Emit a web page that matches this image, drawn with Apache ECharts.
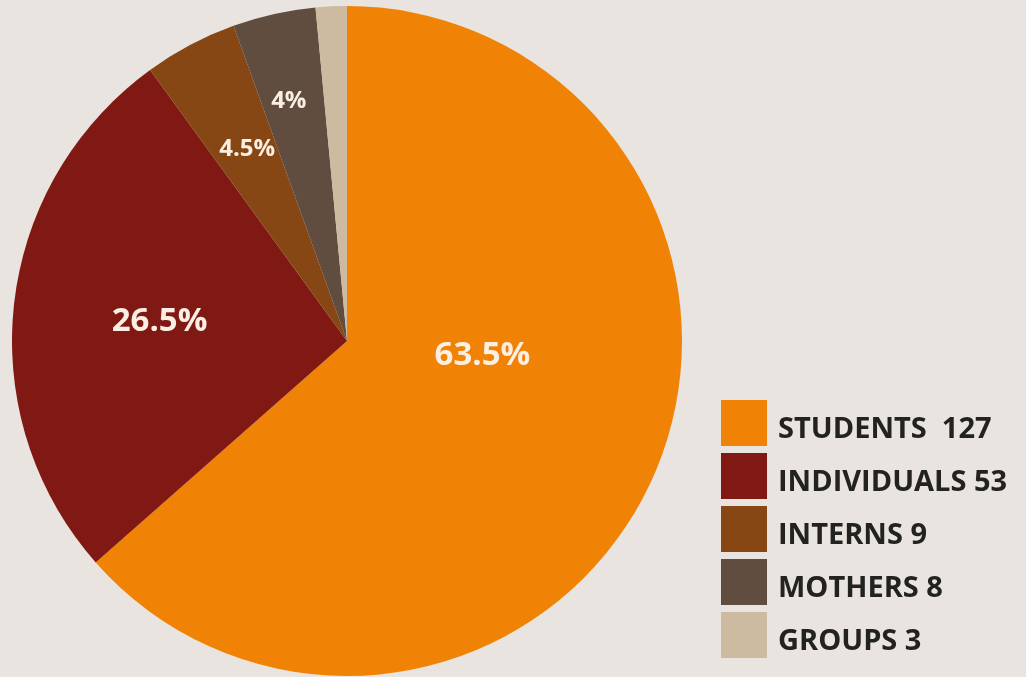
<!DOCTYPE html>
<html><head><meta charset="utf-8">
<script src="https://cdn.jsdelivr.net/npm/echarts@6/dist/echarts.min.js"></script>
<style>html,body{margin:0;padding:0;background:#e9e4df;}#c{width:1026px;height:677px;}</style>
</head><body><div id="c"></div>
<script>
const categories = ['STUDENTS', 'INDIVIDUALS', 'INTERNS', 'MOTHERS', 'GROUPS'];
const values = [127, 53, 9, 8, 3];
const percentLabels = ['63.5%', '26.5%', '4.5%', '4%', ''];

const colors = ['#f08305', '#801914', '#864714', '#604d40', '#ccbba1'];
const labelOffsets = [[-20, -56], [-18, -1], [-20, -41], [-21, -73], [0, 0]];
const labelSizes = [33, 33, 24, 24, 12];
const legendSep = [' \u00a0', ' ', ' ', ' ', ' '];

const chart = echarts.init(document.getElementById('c'));
chart.setOption({
  backgroundColor: '#e9e4df',
  animation: false,
  legend: {
    orient: 'vertical', left: 721, top: 400, padding: 0,
    itemWidth: 46, itemHeight: 46, itemGap: 7,
    icon: 'rect',
    formatter: function (n) { const i = categories.indexOf(n); return '{t|' + n + legendSep[i] + values[i] + '}'; },
    textStyle: {
      color: '#222220', fontSize: 29, fontWeight: 'bold', fontFamily: 'Open Sans',
      rich: { t: { color: '#222220', fontSize: 29, fontWeight: 'bold', fontFamily: 'Open Sans', padding: [13, 0, 0, 6] } }
    }
  },
  series: [{
    type: 'pie', center: [347, 341], radius: [0, 335], startAngle: 90, clockwise: true,
    label: { show: true, position: 'inside', color: '#fbeee2', fontWeight: 'bold', fontFamily: 'Open Sans' },
    labelLine: { show: false },
    emphasis: { disabled: true },
    data: categories.map((c, i) => ({
      name: c, value: values[i],
      itemStyle: { color: colors[i] },
      label: { formatter: percentLabels[i], offset: labelOffsets[i], fontSize: labelSizes[i], show: percentLabels[i] !== '' }
    }))
  }]
});
</script></body></html>
